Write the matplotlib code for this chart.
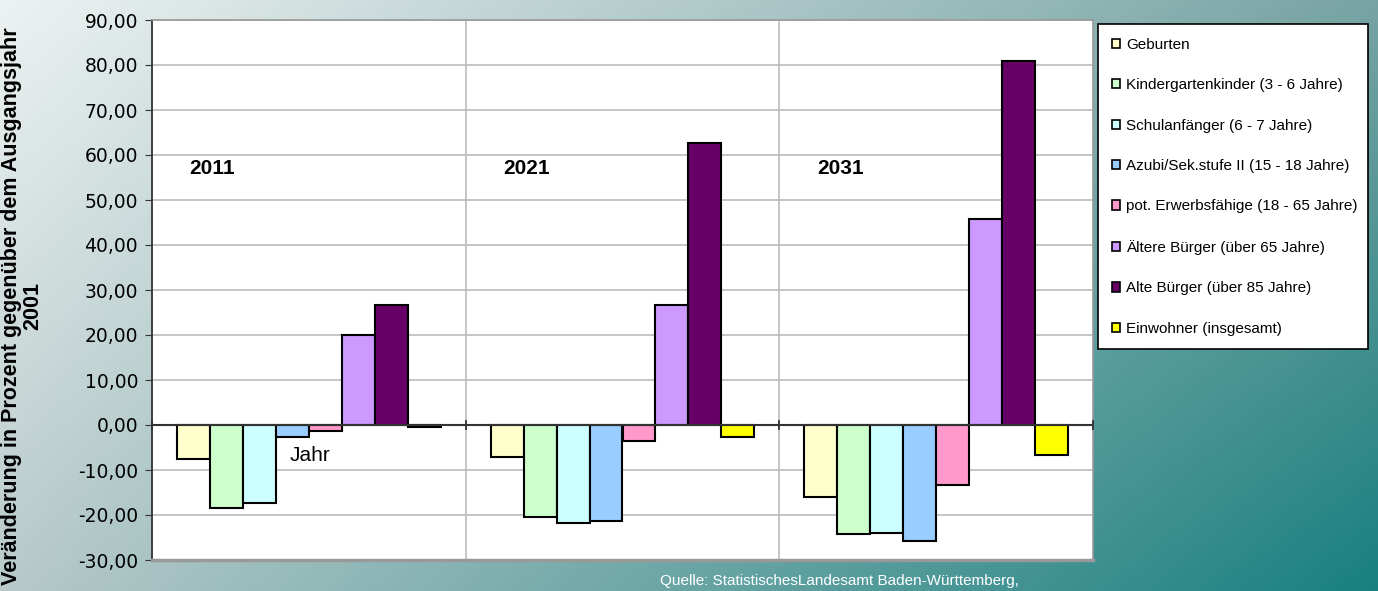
import numpy as np
import matplotlib.pyplot as plt
from matplotlib.patches import Patch
from matplotlib.ticker import FuncFormatter, MultipleLocator

plt.rcParams['font.family'] = ['Liberation Sans', 'DejaVu Sans']

# data
jahre = ['2011', '2021', '2031']
gruppen = ['Geburten', 'Kindergartenkinder (3 - 6 Jahre)', 'Schulanfänger (6 - 7 Jahre)',
           'Azubi/Sek.stufe II (15 - 18 Jahre)', 'pot. Erwerbsfähige (18 - 65 Jahre)',
           'Ältere Bürger (über 65 Jahre)', 'Alte Bürger (über 85 Jahre)', 'Einwohner (insgesamt)']
geburten = [-7.5, -7.1, -15.9]
kinder = [-18.5, -20.4, -24.3]
schulanf = [-17.3, -21.8, -23.9]
azubi = [-2.6, -21.3, -25.7]
erwerb = [-1.3, -3.6, -13.3]
aeltere = [20.0, 26.7, 45.8]
alte = [26.7, 62.7, 80.9]
einwohner = [-0.4, -2.7, -6.6]
farben = ['#FFFFCC', '#CCFFCC', '#CCFFFF', '#99CCFF', '#FF99CC', '#CC99FF', '#660066', '#FFFF00']

serien = [geburten, kinder, schulanf, azubi, erwerb, aeltere, alte, einwohner]

fig = plt.figure(figsize=(13.78, 5.91), dpi=100)

# gradient background
bg = fig.add_axes([0, 0, 1, 1], zorder=-10)
bg.axis('off')
yy, xx = np.mgrid[0:1:200j, 0:1:400j]
tl = np.array([0.93, 0.95, 0.95])
tr = np.array([0.47, 0.64, 0.64])
bl = np.array([0.72, 0.79, 0.79])
br = np.array([0.10, 0.50, 0.50])
img = ((1 - xx)[..., None] * (1 - yy)[..., None] * tl + xx[..., None] * (1 - yy)[..., None] * tr
       + (1 - xx)[..., None] * yy[..., None] * bl + xx[..., None] * yy[..., None] * br)
bg.imshow(img, aspect='auto', extent=[0, 1, 0, 1], origin='upper')
bg.set_xlim(0, 1)
bg.set_ylim(0, 1)

ax = fig.add_axes([152 / 1378, 1 - 560 / 591, 941 / 1378, 540 / 591])
ax.set_facecolor('white')

n = len(serien)
breite = 0.105
x = np.arange(len(jahre))
for i, (werte, farbe) in enumerate(zip(serien, farben)):
    pos = x + (i - (n - 1) / 2) * breite
    ax.bar(pos, werte, breite, color=farbe, edgecolor='black', linewidth=1.5,
           label=gruppen[i], zorder=3)

ax.set_xlim(-0.5, 2.5)
ax.set_ylim(-30, 90)
ax.yaxis.set_major_locator(MultipleLocator(10))
ax.yaxis.set_major_formatter(FuncFormatter(lambda v, p: f'{v:.2f}'.replace('.', ',')))
ax.tick_params(axis='y', labelsize=13.5, length=5, direction='out', color='#333333', pad=5)
for lab in ax.get_yticklabels():
    lab.set_family('DejaVu Sans')
ax.set_xticks([])
ax.grid(axis='y', color='#bbbbbb', linewidth=1.2, zorder=0)
for gx in [0.5, 1.5]:
    ax.axvline(gx, color='#bbbbbb', linewidth=1.2, zorder=0)
ax.axhline(0, color='#333333', linewidth=1.5, zorder=4)
for gx in [-0.5, 0.5, 1.5, 2.5]:
    ax.plot([gx, gx], [-0.9, 0.9], color='#333333', linewidth=1.3, zorder=4, clip_on=False)
for s in ['top', 'right', 'bottom']:
    ax.spines[s].set_color('#999999')
    ax.spines[s].set_linewidth(1.2)
ax.spines['bottom'].set_linewidth(2.5)
ax.spines['left'].set_color('#333333')
ax.spines['left'].set_linewidth(1.3)

fig.text(22 / 1378, 1 - 306 / 591, 'Veränderung in Prozent gegenüber dem Ausgangsjahr\n2001',
         fontsize=15.5, fontweight='bold', rotation=90, ha='center', va='center',
         multialignment='center', linespacing=1.05)

for xi, j in zip(x, jahre):
    ax.text(xi - 0.38, 57, j, fontsize=15, fontweight='bold', va='center', ha='left', zorder=5)
ax.text(-0.06, -6.8, 'Jahr', fontsize=15, va='center', ha='left', zorder=5)

handles = [Patch(facecolor=c, edgecolor='black', linewidth=1.2) for c in farben]
leg = fig.legend(handles, gruppen, loc='upper left',
                 bbox_to_anchor=(1098 / 1378, 1 - 350 / 591, 270 / 1378, 326 / 591),
                 mode='expand', fontsize=11, frameon=True, fancybox=False,
                 edgecolor='black', framealpha=1, labelspacing=1.73, handlelength=0.55,
                 handleheight=0.55, handletextpad=0.4, borderpad=0.9, borderaxespad=0)
leg.get_frame().set_linewidth(1.2)

fig.text(660 / 1378, 1 - 581 / 591, 'Quelle: StatistischesLandesamt Baden-Württemberg,',
         fontsize=11, color='white', va='center', ha='left')

fig.savefig('out.png', dpi=100)
